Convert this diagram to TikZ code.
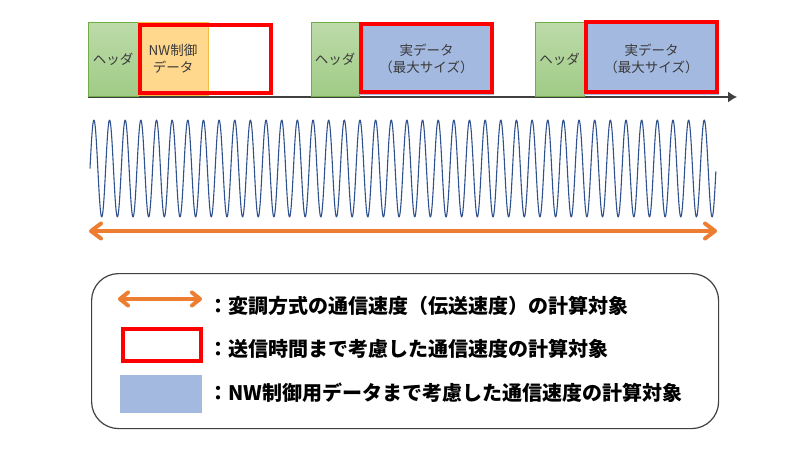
\documentclass[tikz,border=0pt]{standalone}
\usepackage{fontspec}
\newfontfamily\jp{Noto Sans CJK JP}
\usetikzlibrary{arrows.meta}
\definecolor{hdrline}{HTML}{70AD47}
\definecolor{hdrtop}{HTML}{BDDBA9}
\definecolor{hdrbot}{HTML}{A0CB86}
\definecolor{nwfill}{HTML}{FFD88E}
\definecolor{nwline}{HTML}{F2BE45}
\definecolor{datafill}{HTML}{A3B9E0}
\definecolor{redline}{HTML}{FF0000}
\definecolor{orangearr}{HTML}{ED7D31}
\definecolor{waveblue}{RGB}{47,82,143}
\definecolor{txtgray}{HTML}{3A3A3A}
\definecolor{axisgray}{HTML}{404040}
\begin{document}
\begin{tikzpicture}[x=1pt,y=-1pt,
  blk/.style={rectangle, inner sep=0pt, outer sep=0pt, anchor=north west,
    font=\jp\fontsize{13.5}{17}\selectfont, text=txtgray, align=center},
  hdr/.style={blk, draw=hdrline, line width=1pt, top color=hdrtop, bottom color=hdrbot},
  nwbox/.style={blk, fill=nwfill, draw=nwline, line width=0.8pt},
  databox/.style={blk, fill=datafill},
  redframe/.style={rectangle, inner sep=0pt, outer sep=0pt, anchor=north west, draw=redline, line width=4pt},
  oarrow/.style={draw=orangearr, line width=4pt,
    {Straight Barb[length=10pt,width=15pt,round]}-{Straight Barb[length=10pt,width=15pt,round]}},
  legtxt/.style={anchor=base west, inner sep=0pt, font=\jp\bfseries\fontsize{20}{24}\selectfont, text=black}
]
\useasboundingbox (0,0) rectangle (800,450);

% time axis
\coordinate (a0) at (88,97);
\coordinate (a1) at (737,97);
\draw[axisgray, line width=1.2pt, -{Latex[length=9pt,width=11pt]}] (a0) -- (a1);

% block 1
\node[hdr, minimum width=50, minimum height=74] (h1) at (88,22) {ヘッダ};
\node[nwbox, minimum width=70, minimum height=73] (d1) at (138,22) {NW制御\\データ};
\node[redframe, minimum width=131, minimum height=68] (r1) at (140,25) {};

% block 2
\node[hdr, minimum width=48, minimum height=74] (h2) at (311,22) {ヘッダ};
\node[databox, minimum width=135, minimum height=73] (d2) at (359,22) {実データ\\（最大サイズ）};
\node[redframe, minimum width=131, minimum height=68] (r2) at (361,24) {};

% block 3
\node[hdr, minimum width=49, minimum height=74] (h3) at (535,22) {ヘッダ};
\node[databox, minimum width=135, minimum height=73] (d3) at (584,22) {実データ\\（最大サイズ）};
\node[redframe, minimum width=131, minimum height=70] (r3) at (586,22) {};

% carrier wave
\draw[waveblue, line width=1.1pt, line join=round]
  plot[domain=0:40, samples=1201, variable=\t] ({90+15.65*\t},{168.5-48.5*sin(360*\t)});

% modulation span arrow
\coordinate (m0) at (89,231);
\coordinate (m1) at (717,231);
\draw[oarrow] (m0) -- (m1);

% legend
\node[rectangle, draw=axisgray, line width=1.2pt, rounded corners=27pt, inner sep=0pt,
  anchor=north west, minimum width=627, minimum height=155] (leg) at (91,273) {};
\coordinate (la0) at (118,299);
\coordinate (la1) at (202,299);
\draw[oarrow, {Straight Barb[length=8pt,width=13pt,round]}-{Straight Barb[length=8pt,width=13pt,round]}] (la0) -- (la1);
\node[redframe, minimum width=78, minimum height=32] (lr) at (123,329) {};
\node[rectangle, fill=datafill, inner sep=0pt, anchor=north west, minimum width=82, minimum height=38] (lb) at (120,375) {};

\node[legtxt] (t1) at (208,313.5) {：変調方式の通信速度（伝送速度）の計算対象};
\node[legtxt] (t2) at (208,356.5) {：送信時間まで考慮した通信速度の計算対象};
\node[legtxt] (t3) at (208,400) {：NW制御用データまで考慮した通信速度の計算対象};
\end{tikzpicture}
\end{document}
